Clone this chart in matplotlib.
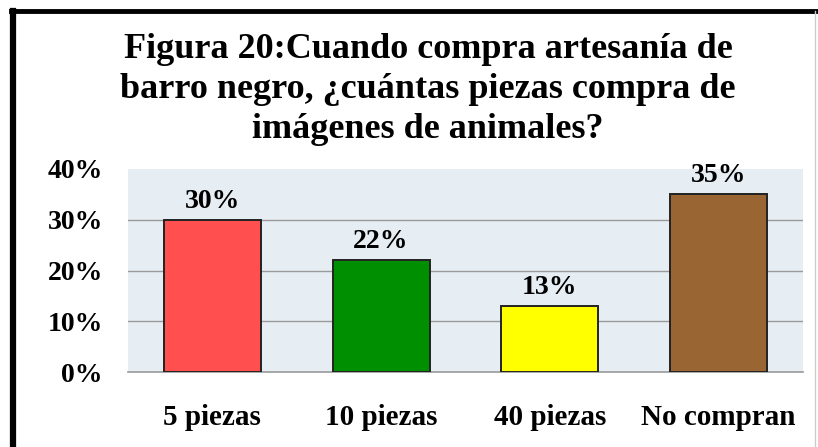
import matplotlib.pyplot as plt
from matplotlib.lines import Line2D

categories = ["5 piezas", "10 piezas", "40 piezas", "No compran"]
values = [30, 22, 13, 35]
colors = ["#ff4f4f", "#008f00", "#ffff00", "#996633"]
yticks = [0, 10, 20, 30, 40]

title = ("Figura 20:Cuando compra artesanía de\n"
         "barro negro, ¿cuántas piezas compra de\n"
         "imágenes de animales?")

plt.rcParams["font.family"] = ["Liberation Serif", "DejaVu Serif"]
plt.rcParams["font.weight"] = "bold"

fig = plt.figure(figsize=(8.18, 4.47), dpi=100)
W, H = 818, 447
ax = fig.add_axes([128 / W, 1 - 372 / H, (803 - 128) / W, (372 - 169) / H])

ax.set_facecolor("#e6edf3")
x = range(len(categories))
ax.bar(x, values, width=0.575, color=colors, edgecolor="#222222", linewidth=1.4, zorder=3)
for i, v in enumerate(values):
    ax.text(i, v + 1.2, f"{v}%", ha="center", va="bottom", fontsize=20, fontweight="bold", zorder=4)

ax.set_xlim(-0.5, len(categories) - 0.5)
ax.set_ylim(0, 40)
ax.set_yticks(yticks)
ax.set_yticklabels([f"{t}%" for t in yticks], fontsize=20, fontweight="bold")
ax.set_xticks(list(x))
ax.set_xticklabels(categories, fontsize=21, fontweight="bold")
ax.tick_params(axis="y", length=0, pad=18)
ax.tick_params(axis="x", length=0, pad=23)
# grid lines only at 10/20/30 (none drawn at the top edge)
for t in yticks[1:-1]:
    ax.axhline(t, color="#9a9a9a", linewidth=1.0, zorder=0)
for s in ["left", "right", "top"]:
    ax.spines[s].set_visible(False)
ax.spines["bottom"].set_color("#9a9a9a")
ax.spines["bottom"].set_linewidth(1.2)

fig.text(428 / W, 1 - 90 / H, title, ha="center", va="center", fontsize=26,
         fontweight="bold", linespacing=1.28)

# frame lines (left and top), faint right edge
fig.add_artist(Line2D([13 / W, 13 / W], [0, 1 - 11 / H], color="black", linewidth=4.5))
fig.add_artist(Line2D([11 / W, 1], [1 - 11 / H, 1 - 11 / H], color="black", linewidth=3.5))
fig.add_artist(Line2D([815 / W, 815 / W], [0, 1 - 11 / H], color="#cccccc", linewidth=1))

plt.savefig("out.png", dpi=100)
